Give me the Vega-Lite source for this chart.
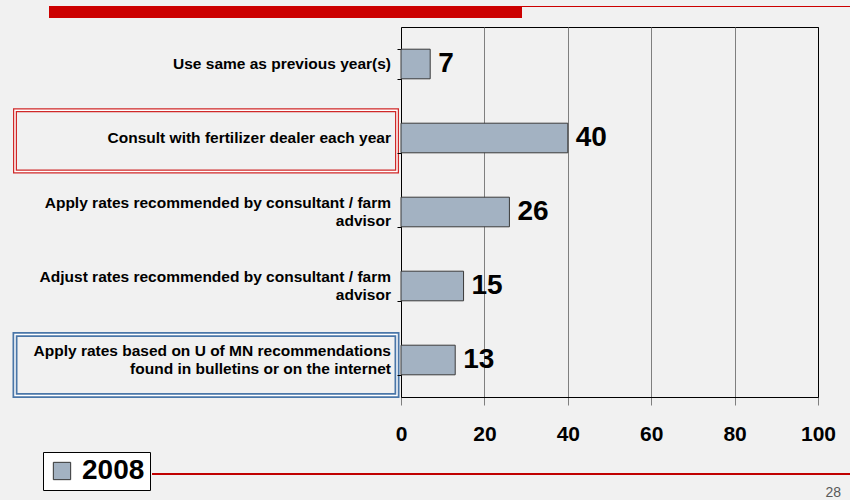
{
  "$schema": "https://vega.github.io/schema/vega-lite/v6.json",
  "background": "#f1f1f1",
  "padding": {"left": 12, "top": 6, "right": 0, "bottom": 0},
  "config": {"view": {"stroke": null}, "font": "Liberation Sans", "concat": {"spacing": 0}},
  "datasets": {
    "responses": [
      {"label": "Use same as previous year(s)", "value": 7, "year": "2008"},
      {"label": "Consult with fertilizer dealer each year", "value": 40, "year": "2008"},
      {"label": "Apply rates recommended by consultant / farm\nadvisor", "value": 26, "year": "2008"},
      {"label": "Adjust rates recommended by consultant / farm\nadvisor", "value": 15, "year": "2008"},
      {"label": "Apply rates based on U of MN recommendations\nfound in bulletins or on the internet", "value": 13, "year": "2008"}
    ]
  },
  "spacing": 8,
  "vconcat": [
    {
      "bounds": "flush",
      "spacing": 0,
      "hconcat": [
        {"width": 34, "height": 12, "data": {"values": []}, "mark": "point", "view": {"fill": "#f1f1f1"}},
        {"width": 473, "height": 12, "data": {"values": []}, "mark": "point", "view": {"fill": "#cc0000"}},
        {"width": 331, "height": 1, "data": {"values": []}, "mark": "point", "view": {"fill": "#cc0000"}}
      ]
    },
    {
      "bounds": "flush",
      "spacing": 4,
      "resolve": {"scale": {"y": "independent"}},
      "hconcat": [
        {
          "width": 382,
          "height": 370,
          "data": {"name": "responses"},
          "resolve": {"scale": {"y": "independent"}},
          "layer": [
            {
              "encoding": {
                "y": {"field": "label", "type": "nominal", "sort": null, "axis": null,
                      "scale": {"paddingInner": 0.18, "paddingOuter": 0.0675, "align": 0.863}}
              },
              "layer": [
                {"mark": {"type": "rect", "opacity": 0}},
                {"transform": [{"filter": "indexof(datum.label, 'fertilizer dealer') >= 0"}],
                 "mark": {"type": "rect", "filled": false, "stroke": "#d02828", "strokeWidth": 4}},
                {"transform": [{"filter": "indexof(datum.label, 'fertilizer dealer') >= 0"}],
                 "mark": {"type": "rect", "filled": false, "stroke": "#ffffff", "strokeWidth": 1.5}},
                {"transform": [{"filter": "indexof(datum.label, 'U of MN') >= 0"}],
                 "mark": {"type": "rect", "filled": false, "stroke": "#4a76a8", "strokeWidth": 5}},
                {"transform": [{"filter": "indexof(datum.label, 'U of MN') >= 0"}],
                 "mark": {"type": "rect", "filled": false, "stroke": "#ffffff", "strokeWidth": 1.5}}
              ]
            },
            {
              "encoding": {
                "y": {"field": "label", "type": "nominal", "sort": null, "axis": null,
                      "scale": {"paddingInner": 0.6, "paddingOuter": 0.3}},
                "x": {"value": "width"},
                "text": {"field": "label", "type": "nominal"}
              },
              "layer": [
                {"mark": {"type": "text", "opacity": 0}},
                {"transform": [{"filter": "indexof(datum.label, '\\n') < 0"}],
                 "mark": {"type": "text", "align": "right", "baseline": "middle", "dx": -6, "fontSize": 15.5, "fontWeight": "bold", "color": "#000000"}},
                {"transform": [{"filter": "indexof(datum.label, '\\n') >= 0"}],
                 "mark": {"type": "text", "align": "right", "baseline": "middle", "dx": -6, "dy": -9, "lineBreak": "\n", "lineHeight": 18, "fontSize": 15.5, "fontWeight": "bold", "color": "#000000"}}
              ]
            }
          ]
        },
        {
          "width": 417,
          "height": 370,
          "data": {"name": "responses"},
          "view": {"stroke": "#000000", "strokeWidth": 1},
          "encoding": {
            "y": {"field": "label", "type": "nominal", "sort": null, "title": null,
                  "scale": {"paddingInner": 0.6, "paddingOuter": 0.3},
                  "axis": {"tickBand": "extent", "tickSize": 4, "tickColor": "#000000", "domainColor": "#000000",
                           "labels": false, "grid": false}},
            "x": {"field": "value", "type": "quantitative", "title": null,
                  "scale": {"domain": [0, 100], "nice": false},
                  "axis": {"values": [0, 20, 40, 60, 80, 100], "grid": true,
                           "gridColor": {"condition": {"test": "datum.value === 100", "value": "#000000"}, "value": "#7f7f7f"},
                           "gridOpacity": 1, "tickSize": 8, "tickColor": "#7f7f7f", "domainColor": "#000000",
                           "labelFontSize": 21, "labelFontWeight": "bold", "labelColor": "#000000",
                           "labelPadding": 18, "labelFlush": false}}
          },
          "layer": [
            {
              "mark": {"type": "bar", "stroke": "#3a3a3a", "strokeWidth": 1},
              "encoding": {
                "color": {"field": "year", "type": "nominal", "scale": {"range": ["#a3b2c2"]},
                          "legend": {"title": null, "orient": "none", "legendX": 28, "legendY": 446,
                                     "direction": "vertical", "symbolType": "square", "symbolSize": 300,
                                     "symbolStrokeColor": "#333333", "symbolStrokeWidth": 1,
                                     "labelFontSize": 28, "labelFontWeight": "bold", "labelColor": "#000000",
                                     "labelOffset": 6, "strokeColor": "#000000", "fillColor": "#ffffff", "padding": 5}}
              }
            },
            {
              "mark": {"type": "text", "align": "left", "dx": 8, "baseline": "middle", "fontSize": 28, "fontWeight": "bold", "color": "#000000"},
              "encoding": {"text": {"field": "value", "type": "quantitative"}}
            }
          ]
        }
      ]
    },
    {"width": 1, "height": 12, "data": {"values": []}, "mark": "point", "view": {"fill": "#f1f1f1"}},
    {
      "bounds": "flush",
      "spacing": 0,
      "hconcat": [
        {"width": 137, "height": 1, "data": {"values": []}, "mark": "point", "view": {"fill": "#f1f1f1"}},
        {"width": 701, "height": 2, "data": {"values": []}, "mark": "point", "view": {"fill": "#c00000"},
         "title": {"text": "28", "orient": "bottom", "anchor": "end", "fontSize": 14, "fontWeight": "normal", "color": "#595959", "offset": 11, "dx": -12}}
      ]
    }
  ]
}
